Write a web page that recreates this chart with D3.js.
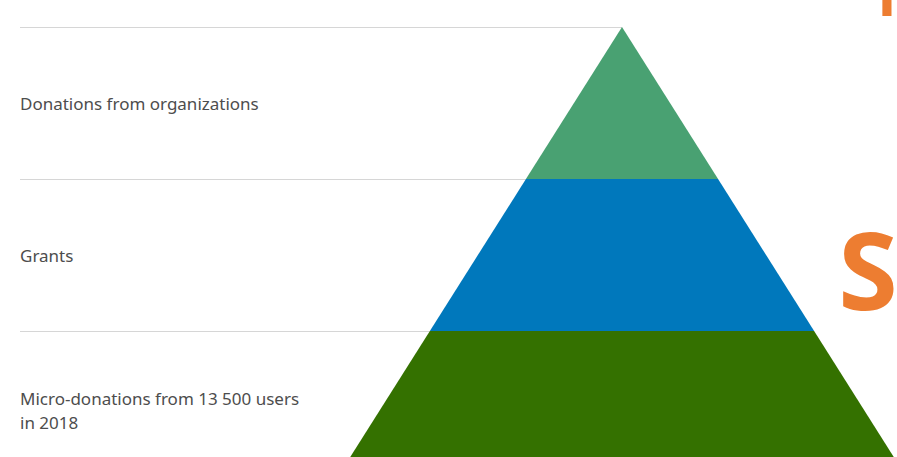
<!DOCTYPE html>
<html><head><meta charset="utf-8">
<script src="https://cdn.jsdelivr.net/npm/d3@7"></script>
<style>html,body{margin:0;padding:0;background:#fff;overflow:hidden}</style>
</head><body>
<svg id="chart" width="897" height="457"></svg>
<script>
const categories = ["Donations from organizations", "Grants", "Micro-donations from 13 500 users\nin 2018"];
const layerValues = [1, 1, 1];
const layerColors = ["#49a172", "#0078bc", "#347100"];
const decoLetters = ["I", "S"];

const svg = d3.select("#chart");
const apexX = 622, apexY = 27, layerH = 152;
const total = d3.sum(layerValues);
const cum = [0]; layerValues.forEach(v => cum.push(cum[cum.length-1] + v));

const y = d3.scaleLinear().domain([0, total]).range([apexY, apexY + layerH * total]);
const halfW = d3.scaleLinear().domain([0, total]).range([0, 0.632 * layerH * total]);

// guide lines
svg.append("g").selectAll("line").data(categories).join("line")
  .attr("x1", 20).attr("x2", (d, i) => apexX - halfW(cum[i]))
  .attr("y1", (d, i) => y(cum[i]) + 0.5).attr("y2", (d, i) => y(cum[i]) + 0.5)
  .attr("stroke", "#d6d6d6").attr("stroke-width", 1.2);

// layers
svg.append("g").selectAll("path").data(layerValues).join("path")
  .attr("d", (d, i) => {
    const a = cum[i], b = cum[i + 1];
    return `M${apexX - halfW(a)},${y(a)}L${apexX + halfW(a)},${y(a)}L${apexX + halfW(b)},${y(b)}L${apexX - halfW(b)},${y(b)}Z`;
  })
  .attr("fill", (d, i) => layerColors[i]);

// labels
const lab = svg.append("g").selectAll("text").data(categories).join("text")
  .attr("font-family", "'Noto Sans', sans-serif").attr("font-size", 17).attr("fill", "#4d4d4d")
  .attr("x", 20)
  .attr("y", (d, i) => (y(cum[i]) + y(cum[i + 1])) / 2);
lab.each(function(d, i) {
  const lines = d.split("\n");
  const n = lines.length;
  const t = d3.select(this);
  const cy = +t.attr("y");
  lines.forEach((ln, j) => {
    t.append("tspan").attr("x", 20)
      .attr("y", cy + 7 + (j - (n - 1) / 2) * 24 + (n - 1) * 3)
      .text(ln);
  });
});

// decorative orange letters at right edge
svg.append("text").attr("x", 887).attr("y", 16).attr("text-anchor", "middle")
  .attr("font-family", "'Open Sans', sans-serif").attr("font-weight", 700)
  .attr("font-size", 60).attr("fill", "#ed7d31").text(decoLetters[0]);
svg.append("text").attr("x", 868).attr("y", 310).attr("text-anchor", "middle")
  .attr("font-family", "'Open Sans', sans-serif").attr("font-weight", 700)
  .attr("font-size", 108).attr("fill", "#ed7d31").text(decoLetters[1]);
</script>
</body></html>
